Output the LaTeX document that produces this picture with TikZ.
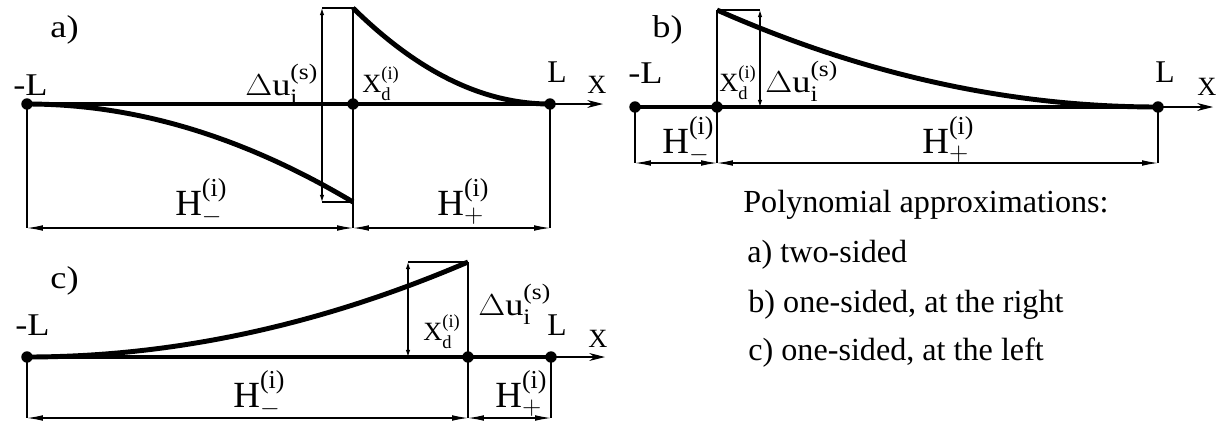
\documentclass[tikz,border=0pt]{standalone}
\usepackage{amsmath}
\usepackage{fontspec}
\setmainfont{Liberation Serif}
\usetikzlibrary{arrows.meta}
\newcommand{\wide}[1]{\scalebox{1.15}[1]{#1}}
\newcommand{\Hmin}{H$^{\text{(i)}}_{-}$}
\newcommand{\Hplus}{H$^{\text{(i)}}_{+}$}
\newcommand{\xdi}{X$^{\text{(i)}}_{\text{d}}$}
\newcommand{\dui}{\wide{$\Delta$u$^{\text{(s)}}_{\text{i}}$}}
\tikzset{
  dot/.style={circle,fill,inner sep=0pt,minimum size=6.5pt},
  lbl/.style={anchor=base west,inner sep=0pt,font=\fontsize{18}{20}\selectfont},
  xlbl/.style={anchor=base west,inner sep=0pt,font=\fontsize{15}{18}\selectfont},
  hlbl/.style={anchor=base west,inner sep=0pt,font=\fontsize{21}{24}\selectfont},
  txt/.style={anchor=base west,inner sep=0pt,font=\fontsize{18.3}{22}\selectfont},
  axis/.style={line width=1.8pt},
  xarrow/.style={line width=0.6pt,-{Stealth[length=9pt,width=4.5pt]}},
  curve/.style={line width=2.8pt},
  thin line/.style={line width=0.6pt},
  dim/.style={line width=0.6pt,{Latex[length=9pt,width=3.2pt]}-{Latex[length=9pt,width=3.2pt]}},
  small dim/.style={line width=0.6pt,{Latex[length=4pt,width=2.5pt]}-{Latex[length=4pt,width=2.5pt]}}
}
\begin{document}
\begin{tikzpicture}[x=0.02cm,y=-0.02cm]
\useasboundingbox (0,0) rectangle (1220,423);
% a) two-sided
\node[dot] (am) at (27,104) {};
\node[dot] (ad) at (353,104) {};
\node[dot] (aL) at (550,104) {};
\coordinate (aX) at (603,104);
\coordinate (atop) at (353,8);
\coordinate (abot) at (353,202);
\coordinate (au) at (322,8);
\coordinate (ab) at (322,202);
\coordinate (a1) at (27,228);
\coordinate (a2) at (353,228);
\coordinate (a3) at (550,228);
\draw[axis] (am.center) -- (ad.center) -- (aL.center);
\draw[xarrow] (aL.center) -- (aX);
\draw[curve] (am.center) .. controls (136,104) and (244,137) .. (abot);
\draw[curve] (atop) .. controls (418,72) and (483,104) .. (aL.center);
\draw[thin line] (au) -- (atop) -- (a2) (ab) -- (abot);
\draw[small dim] (au) -- (ab);
\draw[thin line] (am.center) -- (a1) (aL.center) -- (a3);
\draw[dim] (a1) -- (a2);
\draw[dim] (a2) -- (a3);
\node[lbl] (alab) at (50,37) {\wide{a)}};
\node[lbl] (amL) at (13,95) {\wide{-L}};
\node[lbl] (adu) at (245,95) {\dui};
\node[xlbl] (axd) at (362,92) {\xdi};
\node[lbl] (aLL) at (547,82) {L};
\node[xlbl] (aXX) at (587,93) {X};
\node[hlbl] (aHm) at (175,215) {\Hmin};
\node[hlbl] (aHp) at (437,215) {\Hplus};
% b) one-sided, at the right
\node[dot] (bm) at (635,107) {};
\node[dot] (bd) at (717,107) {};
\node[dot] (bL) at (1158,107) {};
\coordinate (bX) at (1213,107);
\coordinate (btop) at (717,10);
\coordinate (bu) at (760,10);
\coordinate (bb) at (760,107);
\coordinate (b1) at (635,163);
\coordinate (b2) at (717,163);
\coordinate (b3) at (1158,163);
\draw[axis] (bm.center) -- (bd.center) -- (bL.center);
\draw[xarrow] (bL.center) -- (bX);
\draw[curve] (btop) .. controls (864,75) and (1011,107) .. (bL.center);
\draw[thin line] (btop) -- (bu) (btop) -- (b2);
\draw[small dim] (bu) -- (bb);
\draw[thin line] (bm.center) -- (b1) (bL.center) -- (b3);
\draw[dim] (b1) -- (b2);
\draw[dim] (b2) -- (b3);
\node[lbl] (blab) at (652,37) {\wide{b)}};
\node[lbl] (bmL) at (628,83) {\wide{-L}};
\node[xlbl] (bxd) at (719,91) {\xdi};
\node[lbl] (bdu) at (765,92) {\dui};
\node[lbl] (bLL) at (1155,82) {L};
\node[xlbl] (bXX) at (1197,95) {X};
\node[hlbl] (bHm) at (662,153) {\Hmin};
\node[hlbl] (bHp) at (922,153) {\Hplus};
% c) one-sided, at the left
\node[dot] (cm) at (27,357) {};
\node[dot] (cd) at (468,357) {};
\node[dot] (cL) at (551,357) {};
\coordinate (cX) at (605,357);
\coordinate (ctop) at (468,262);
\coordinate (cu) at (408,262);
\coordinate (cb) at (408,357);
\coordinate (c1) at (27,418);
\coordinate (c2) at (468,418);
\coordinate (c3) at (551,418);
\draw[axis] (cm.center) -- (cd.center) -- (cL.center);
\draw[xarrow] (cL.center) -- (cX);
\draw[curve] (cm.center) .. controls (174,357) and (321,325) .. (ctop);
\draw[thin line] (ctop) -- (cu) (ctop) -- (c2);
\draw[small dim] (cu) -- (cb);
\draw[thin line] (cm.center) -- (c1) (cL.center) -- (c3);
\draw[dim] (c1) -- (c2);
\draw[dim] (c2) -- (c3);
\node[lbl] (clab) at (50,288) {\wide{c)}};
\node[lbl] (cmL) at (15,335) {\wide{-L}};
\node[xlbl] (cxd) at (423,340) {\xdi};
\node[lbl] (cdu) at (478,315) {\dui};
\node[lbl] (cLL) at (547,335) {L};
\node[xlbl] (cXX) at (588,347) {X};
\node[hlbl] (cHm) at (233,407) {\Hmin};
\node[hlbl] (cHp) at (495,407) {\Hplus};
% legend
\node[txt] (title) at (743,212) {Polynomial approximations:};
\node[txt] (ta) at (747,262) {a) two-sided};
\node[txt] (tb) at (748,312) {b) one-sided, at the right};
\node[txt] (tc) at (748,360) {c) one-sided, at the left};
\end{tikzpicture}
\end{document}
